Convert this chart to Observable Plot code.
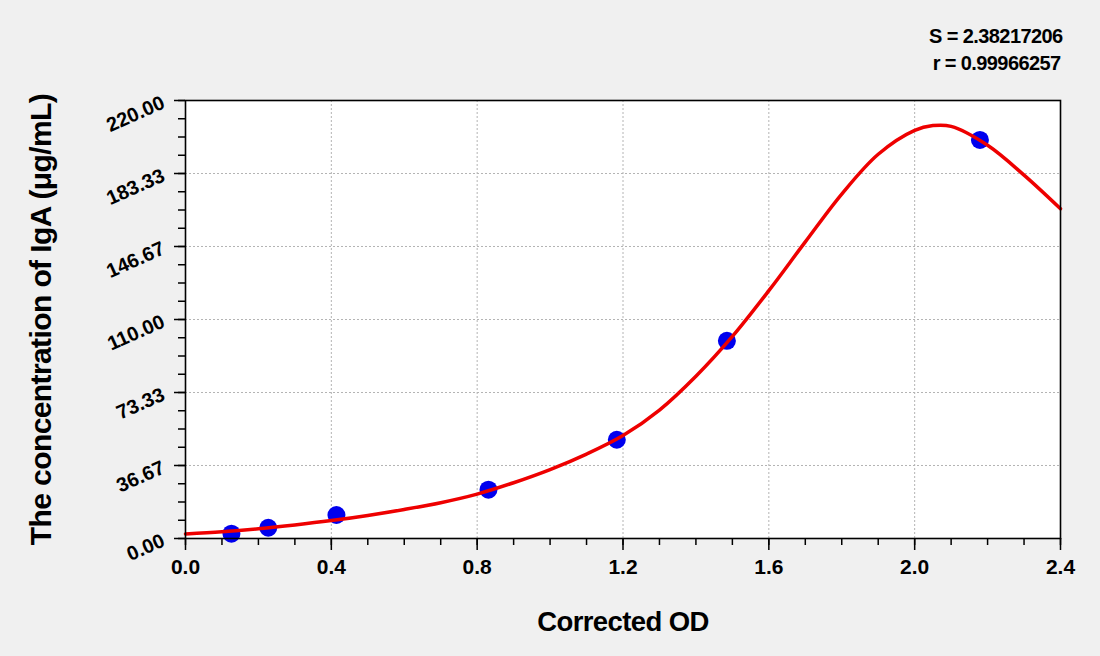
<!DOCTYPE html>
<html>
<head>
<meta charset="utf-8">
<script src="https://cdn.jsdelivr.net/npm/d3@7"></script>
<script src="https://cdn.jsdelivr.net/npm/@observablehq/plot@0.6"></script>
<style>
  html, body { margin: 0; padding: 0; background: #f0f0f0; }
  #chart svg { display: block; background: #f0f0f0; }
  #chart svg text { font-family: "Liberation Sans", Arial, sans-serif; font-weight: bold; }
</style>
</head>
<body>
<div id="chart"></div>
<script>
// Standard points (Corrected OD vs concentration)
const odValues   = [0.126, 0.227, 0.414, 0.831, 1.183, 1.485, 2.179];
const concValues = [2.4, 5.4, 11.8, 24.5, 49.6, 99.3, 200.2];

// Fitted curve
const curveOD   = [0.0, 0.1, 0.2, 0.3, 0.4, 0.5, 0.6, 0.7, 0.8, 0.9, 1.0, 1.1, 1.2, 1.3, 1.4, 1.5, 1.6, 1.7, 1.8, 1.9, 2.0, 2.05, 2.1, 2.2, 2.3, 2.4];
const curveConc = [2.3, 3.4, 4.9, 6.8, 9.0, 11.6, 14.6, 18.0, 22.3, 28.0, 34.6, 42.4, 51.7, 64.5, 81.5, 101.5, 124.5, 149.0, 173.0, 193.0, 205.0, 207.4, 207.0, 197.5, 182.5, 165.6];

// Axes
const xMajorTicks = [0, 0.4, 0.8, 1.2, 1.6, 2.0, 2.4];
const xTickLabels = ["0.0", "0.4", "0.8", "1.2", "1.6", "2.0", "2.4"];
const yMajorTicks = [0, 36.67, 73.33, 110, 146.67, 183.33, 220];
const yTickLabels = ["0.00", "36.67", "73.33", "110.00", "146.67", "183.33", "220.00"];
const xMinorTicks = d3.range(0, 25).map(i => i / 10);
const yMinorTicks = d3.range(0, 25).map(i => i * 220 / 24);

const statLines = ["S = 2.38217206", "r = 0.99966257"];
const xTitle = "Corrected OD";
const yTitle = "The concentration of IgA (\u03bcg/mL)";

const points = odValues.map((x, i) => ({x, y: concValues[i]}));
const curve = curveOD.map((x, i) => ({x, y: curveConc[i]}));

const font = "Liberation Sans, Arial, sans-serif";

const chart = Plot.plot({
  width: 1100,
  height: 656,
  marginLeft: 185,
  marginRight: 40,
  marginTop: 100,
  marginBottom: 118,
  style: {background: "#f0f0f0", fontFamily: font, color: "black"},
  x: {domain: [0, 2.4]},
  y: {domain: [0, 220]},
  marks: [
    Plot.frame({fill: "white", stroke: null}),
    Plot.gridX(xMajorTicks.slice(1, -1), {stroke: "#b4b4b4", strokeOpacity: 1, strokeDasharray: "2,2"}),
    Plot.gridY(yMajorTicks.slice(1, -1), {stroke: "#b4b4b4", strokeOpacity: 1, strokeDasharray: "2,2"}),
    Plot.dot(points, {x: "x", y: "y", r: 9, fill: "#0000ee", stroke: null}),
    Plot.line(curve, {x: "x", y: "y", stroke: "#ee0000", strokeWidth: 3.5, curve: "catmull-rom"}),
    Plot.frame({stroke: "black", strokeWidth: 1.6}),
    // x ticks
    Plot.axisX(xMinorTicks, {tickSize: 7, stroke: "black", strokeWidth: 1.5, fill: "none", label: null}),
    Plot.axisX(xMajorTicks, {tickSize: 12, stroke: "black", strokeWidth: 1.5, fill: "none", label: null}),
    Plot.axisX(xMajorTicks, {tickSize: 0, tickPadding: 21, fill: "black", fontSize: 21, label: null,
      tickFormat: d => xTickLabels[xMajorTicks.indexOf(d)]}),
    // y ticks
    Plot.axisY(yMinorTicks, {tickSize: 7, stroke: "black", strokeWidth: 1.5, fill: "none", label: null}),
    Plot.axisY(yMajorTicks, {tickSize: 11, stroke: "black", strokeWidth: 1.5, fill: "none", label: null}),
    Plot.axisY(yMajorTicks, {tickSize: 0, tickPadding: 22, tickRotate: -24, dy: 1, fill: "black", fontSize: 20, label: null,
      tickFormat: d => yTickLabels[yMajorTicks.indexOf(d)]}),
    // titles
    Plot.text([xTitle], {frameAnchor: "bottom", text: d => d, dy: 84, fontSize: 27.5, fill: "black", lineAnchor: "middle", textAnchor: "middle"}),
    Plot.text([yTitle], {frameAnchor: "left", text: d => d, rotate: -90, dx: -144, fontSize: 30, fill: "black", lineAnchor: "middle", textAnchor: "middle"}),
    Plot.text([statLines[0]], {frameAnchor: "top-right", text: d => d, dx: 2, dy: -64, fontSize: 20, fill: "black", textAnchor: "end", lineAnchor: "middle"}),
    Plot.text([statLines[1]], {frameAnchor: "top-right", text: d => d, dx: 0, dy: -37, fontSize: 20, fill: "black", textAnchor: "end", lineAnchor: "middle"})
  ]
});

document.getElementById("chart").appendChild(chart);
const sel = d3.select(chart);
sel.selectAll("text").style("font-weight", "bold");
sel.selectAll("g[aria-label='text'] text").style("letter-spacing", "-0.6px");
</script>
</body>
</html>
